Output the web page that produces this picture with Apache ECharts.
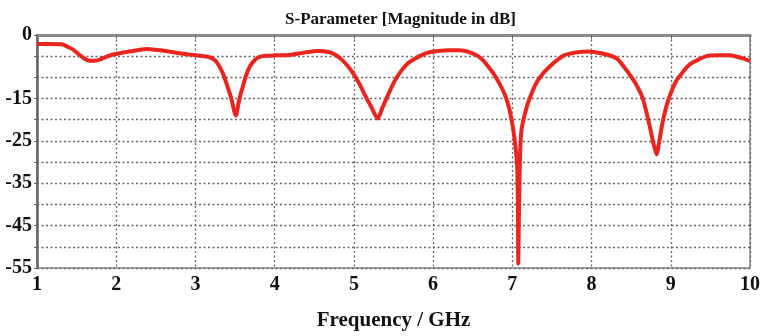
<!DOCTYPE html>
<html><head><meta charset="utf-8">
<script src="https://cdn.jsdelivr.net/npm/echarts@6/dist/echarts.min.js"></script>
<style>html,body{margin:0;padding:0;background:#fff}#c{width:763px;height:336px}</style>
</head><body><div id="c"></div>
<script>
const freqGHz = [1.00,1.15,1.31,1.40,1.46,1.55,1.64,1.72,1.79,1.88,1.96,2.07,2.17,2.38,2.60,2.80,2.92,3.05,3.17,3.25,3.30,3.35,3.40,3.45,3.51,3.55,3.59,3.64,3.69,3.75,3.80,3.90,4.01,4.18,4.39,4.55,4.68,4.76,4.84,4.93,5.01,5.08,5.14,5.22,5.30,5.36,5.43,5.51,5.60,5.68,5.77,5.85,5.93,6.06,6.20,6.31,6.43,6.55,6.62,6.69,6.77,6.85,6.91,6.96,7.00,7.02,7.04,7.06,7.07,7.075,7.085,7.10,7.12,7.19,7.25,7.31,7.40,7.48,7.56,7.65,7.75,7.85,7.95,8.03,8.19,8.32,8.40,8.48,8.57,8.64,8.69,8.74,8.78,8.82,8.86,8.90,8.95,8.99,9.07,9.15,9.23,9.32,9.45,9.60,9.74,9.85,9.92,10.00];
const magDB = [-2.1,-2.1,-2.2,-2.9,-3.5,-4.9,-6.0,-6.1,-5.8,-5.1,-4.6,-4.2,-3.9,-3.3,-3.7,-4.3,-4.6,-4.9,-5.2,-6.0,-7.3,-9.2,-11.9,-14.8,-19.0,-15.5,-12.7,-9.5,-7.3,-5.9,-5.2,-4.9,-4.8,-4.7,-4.1,-3.8,-4.0,-4.6,-5.7,-7.5,-9.6,-11.9,-14.2,-17.0,-19.7,-17.2,-14.2,-11.0,-8.4,-6.7,-5.6,-4.8,-4.2,-3.8,-3.6,-3.6,-3.9,-4.8,-5.8,-7.3,-9.3,-11.9,-14.3,-17.3,-21.0,-23.4,-26.5,-30.5,-40,-54,-40,-27,-21.9,-16.5,-13.5,-11.1,-8.8,-7.3,-6.0,-4.8,-4.3,-4.0,-3.9,-4.0,-4.6,-5.6,-7.3,-9.3,-11.9,-14.6,-18.0,-22,-25.5,-28.2,-24.5,-20.3,-16.5,-14.2,-10.8,-8.8,-7.1,-6.1,-5.0,-4.8,-4.8,-5.2,-5.6,-6.2];
const yTickLabels = [0,-15,-25,-35,-45,-55];
const titleText = 'S-Parameter [Magnitude in dB]';
const xName = 'Frequency / GHz';

const chart = echarts.init(document.getElementById('c'), null, {renderer:'canvas'});
const font = '"Liberation Serif", "Times New Roman", serif';
chart.setOption({
  animation:false,
  title:{text:titleText,left:395.5,top:6,textAlign:'center',
    textStyle:{fontFamily:font,fontWeight:'bold',fontSize:17,color:'#111'}},
  grid:{left:37,right:9,top:35,bottom:62,show:true,borderColor:'#8a8a8a',borderWidth:1.5,backgroundColor:'transparent'},
  xAxis:{type:'value',min:1,max:10,interval:1,name:xName,nameLocation:'middle',nameGap:42,
    nameTextStyle:{fontFamily:font,fontWeight:'bold',fontSize:21,color:'#111'},
    axisLine:{show:true,lineStyle:{color:'#8a8a8a',width:3}},
    axisTick:{show:true,length:4,lineStyle:{color:'#666',width:1}},
    axisLabel:{fontFamily:font,fontWeight:'bold',fontSize:20,color:'#111',margin:7},
    splitLine:{show:true,lineStyle:{color:'#666',type:[2,2.5],width:1.3}}},
  yAxis:{type:'value',min:-55,max:0,interval:5,
    axisLine:{show:true,onZero:false,lineStyle:{color:'#666',width:2.5}},
    axisTick:{show:true,length:3,lineStyle:{color:'#666'}},
    axisLabel:{fontFamily:font,fontWeight:'bold',fontSize:20,color:'#111',margin:5,
      formatter:v=>yTickLabels.includes(v)?String(v):''},
    splitLine:{show:true,lineStyle:{color:'#666',type:[2,2.5],width:1.3}}},
  series:[{type:'line',data:freqGHz.map((f,i)=>[f,magDB[i]]),showSymbol:false,smooth:0.25,
    lineStyle:{color:'#e8261f',width:4},clip:true}]
});
</script></body></html>
